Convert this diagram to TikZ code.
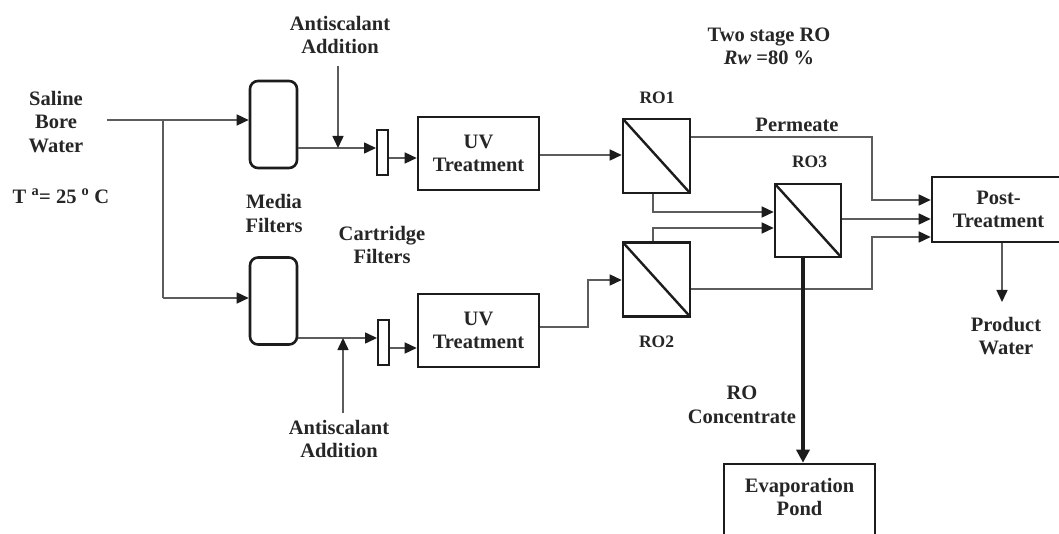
\documentclass[tikz,border=0pt]{standalone}
\usepackage{fontspec}
\setmainfont{Liberation Serif}
\usetikzlibrary{arrows.meta,calc}
\definecolor{txt}{HTML}{262626}
\definecolor{ln}{HTML}{5C5C5C}
\definecolor{bx}{HTML}{1C1C1C}
\tikzset{
  lbl/.style={font=\bfseries\fontsize{20.5}{23.5}\selectfont, text=txt, align=center, inner sep=0pt},
  rolbl/.style={font=\bfseries\fontsize{17.5}{20}\selectfont, text=txt, inner sep=0pt},
  box/.style={draw=bx, line width=2.6pt, fill=white, inner sep=0pt, align=center,
    font=\bfseries\fontsize{20.5}{23.5}\selectfont, text=txt},
  filt/.style={draw=bx, line width=2.6pt, fill=white, rounded corners=8pt,
    minimum width=47pt, minimum height=87pt, inner sep=0pt},
  cart/.style={draw=bx, line width=2pt, fill=white, minimum width=11pt,
    minimum height=45pt, inner sep=0pt},
  romod/.style={draw=bx, line width=2.6pt, fill=white, inner sep=0pt,
    minimum width=67pt, minimum height=74pt,
    path picture={\draw[bx, line width=2.4pt] (path picture bounding box.north west)
      -- (path picture bounding box.south east);}},
  flow/.style={draw=ln, line width=1.5pt, -{Triangle[length=12pt,width=11pt,color=bx]}},
  conc/.style={draw=bx, line width=3.5pt, -{Triangle[length=13pt,width=13pt,color=bx]}},
}
\begin{document}
\begin{tikzpicture}[x=1pt,y=-1pt]
\useasboundingbox (0,0) rectangle (1059,534);
\clip (0,0) rectangle (1059,534);
\fill[white] (0,0) rectangle (1059,534);

% helper coordinates
\coordinate (src) at (107,120);
\coordinate (br) at (163,120);
\coordinate (y298) at (0,298);
\coordinate (y148) at (0,148);
\coordinate (y158) at (0,158);
\coordinate (y155) at (0,155);
\coordinate (y338) at (0,338);
\coordinate (y348) at (0,348);
\coordinate (y327) at (0,327);
\coordinate (y137) at (0,137);
\coordinate (y212) at (0,212);
\coordinate (y228) at (0,228);
\coordinate (y219) at (0,219);
\coordinate (y289) at (0,289);
\coordinate (x653) at (653,0);
\coordinate (cx) at (803,0);
\coordinate (as1) at (338,66);
\coordinate (j1) at (338,148);
\coordinate (as2) at (343,413);
\coordinate (j2) at (343,338);
\coordinate (k2) at (588,280);
\coordinate (p1) at (872,200);
\coordinate (p2) at (872,237);
\coordinate (pwend) at (1002,302);

% equipment
\node[filt] (mf1) at (273.5,124.5) {};
\node[filt] (mf2) at (273.5,301) {};
\node[cart] (cf1) at (382.5,152.5) {};
\node[cart] (cf2) at (383.5,342.5) {};
\node[box, minimum width=121pt, minimum height=73pt] (uv1) at (478.5,153.5) {UV\\Treatment};
\node[box, minimum width=121pt, minimum height=73pt] (uv2) at (478.5,330.5) {UV\\Treatment};
\node[romod] (ro1) at (656.5,156) {};
\node[romod] (ro2) at (656.5,279.5) {};
\node[romod, minimum width=66pt, minimum height=73pt] (ro3) at (808,220.5) {};
\node[box, minimum width=133pt, minimum height=65pt] (post) at (998.5,209.5) {Post-\\Treatment};
\node[box, minimum width=151pt, minimum height=90pt] (evap) at (799.5,509) {};
\node[lbl] (evapt) at (799.5,497) {Evaporation\\Pond};

% labels
\node[lbl] (sbw) at (56,122) {Saline\\Bore\\Water};
\node[lbl] (temp) at (61,196) {T \textsuperscript{a}= 25 \textsuperscript{o} C};
\node[lbl] (mft) at (274,213.5) {Media\\Filters};
\node[lbl] (cft) at (382,245) {Cartridge\\Filters};
\node[lbl] (ast) at (340,35) {Antiscalant\\Addition};
\node[lbl] (asb) at (339,439) {Antiscalant\\Addition};
\node[lbl] (two) at (769,46.5) {Two stage RO\\\textit{Rw} =80 \%};
\node[rolbl] (ro1l) at (657,98) {RO1};
\node[rolbl] (ro2l) at (656.5,342) {RO2};
\node[rolbl] (ro3l) at (809.5,162) {RO3};
\node[lbl] (perm) at (797,125) {Permeate};
\node[lbl] (pw) at (1006,336) {Product\\Water};
\node[lbl] (roc) at (742,405) {RO\\Concentrate};

% connectors
\draw[flow] (src) -- (mf1.west |- src);
\draw[draw=ln, line width=1.5pt] (br) -- (br |- y298);
\draw[flow] (br |- y298) -- (mf2.west |- y298);
\draw[flow] (mf1.east |- y148) -- (cf1.west |- y148);
\draw[flow] (as1) -- (j1);
\draw[flow] (cf1.east |- y158) -- (uv1.west |- y158);
\draw[flow] (uv1.east |- y155) -- (ro1.west |- y155);
\draw[flow] (mf2.east |- y338) -- (cf2.west |- y338);
\draw[flow] (as2) -- (j2);
\draw[flow] (cf2.east |- y348) -- (uv2.west |- y348);
\draw[flow] (uv2.east |- y327) -| (k2) -- (ro2.west |- k2);
\draw[flow] (ro1.east |- y137) -| (p1) -- (post.west |- p1);
\draw[flow] (ro1.south -| x653) |- (ro3.west |- y212);
\draw[flow] (ro2.north -| x653) |- (ro3.west |- y228);
\draw[flow] (ro3.east |- y219) -- (post.west |- y219);
\draw[flow] (ro2.east |- y289) -| (p2) -- (post.west |- p2);
\draw[flow] (post.south -| pwend) -- (pwend);
\draw[conc] (ro3.south -| cx) -- (evap.north -| cx);
\end{tikzpicture}
\end{document}
